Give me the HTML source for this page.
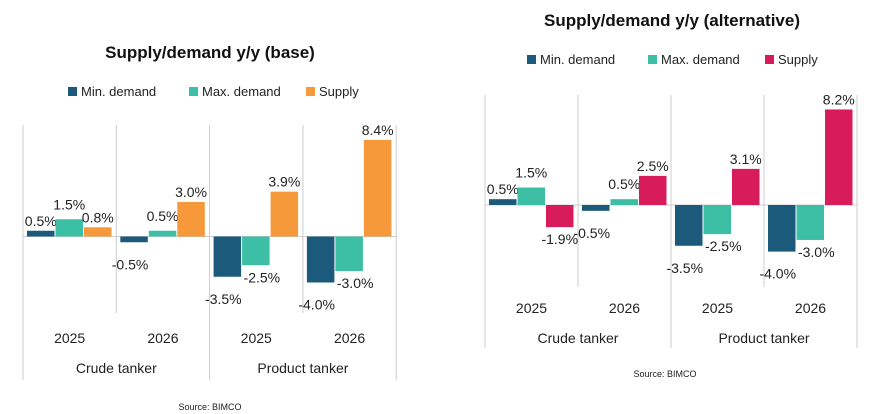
<!DOCTYPE html>
<html><head><meta charset="utf-8"><style>
body{margin:0;background:#fff;width:874px;height:414px;overflow:hidden;font-family:"Liberation Sans",sans-serif}
svg{position:absolute;left:0;top:0}
</style></head><body>
<svg id="s" width="874" height="414"></svg>
<script>
const categories=["2025","2026","2025","2026"];
const groups=["Crude tanker","Product tanker"];
const seriesNames=["Min. demand","Max. demand","Supply"];
const minDemand=[0.5,-0.5,-3.5,-4.0];
const maxDemand=[1.5,0.5,-2.5,-3.0];
const supplyBase=[0.8,3.0,3.9,8.4];
const supplyAlt=[-1.9,2.5,3.1,8.2];
const NS="http://www.w3.org/2000/svg";
const svg=document.getElementById('s');
function el(t,a,txt){const e=document.createElementNS(NS,t);for(const k in a)e.setAttribute(k,a[k]);if(txt!==undefined)e.textContent=txt;svg.appendChild(e);return e;}
function chart(cfg){
  const {x0,gw,zeroY,ppu,top,innerBot,bot,supply,colors,title,titleX,titleY,legX,legY,srcX,srcY,id}=cfg;
  const yS=v=>zeroY-v*ppu;
  let t=el('text',{x:titleX,y:titleY,'font-size':17,'font-weight':'bold','text-anchor':'middle',fill:'#111'},title);
  
  const lx=[legX,legX+121,legX+238];
  seriesNames.forEach((n,i)=>{
    let r=el('rect',{x:lx[i],y:legY-9,width:9,height:9,fill:colors[i]});
    
    let tt=el('text',{x:lx[i]+13,y:legY,'font-size':13,fill:'#222'},n);
    
  });
  for(let i=0;i<=4;i++){
    const full=(i%2===0);
    let l=el('line',{x1:x0+i*gw,x2:x0+i*gw,y1:top,y2:full?bot:innerBot,stroke:'#ccc','stroke-width':1});
    
  }
  let z=el('line',{x1:x0,x2:x0+4*gw,y1:zeroY,y2:zeroY,stroke:'#ccc','stroke-width':1});
  
  const series=[minDemand,maxDemand,supply];
  const bw=27.5,gap=1;
  categories.forEach((c,ci)=>{
    const gx=x0+ci*gw+4;
    series.forEach((s,si)=>{
      const v=s[ci],bx=gx+si*(bw+gap);
      const y1=Math.min(yS(v),zeroY),h=Math.abs(yS(v)-zeroY);
      let r=el('rect',{x:bx,y:y1,width:bw,height:h,fill:colors[si]});
      
      const lab=v.toFixed(1)+'%';
      const ly=v>=0?yS(v)-5-(si===1?5:0):yS(v)+17+(si===0?10:0);
      let tx=el('text',{x:bx+bw/2-(v<0&&si===0?4:0)+(v<0&&si===1?6:0),y:ly,'font-size':14,'text-anchor':'middle',fill:'#222'},lab);
      
    });
    let ct=el('text',{x:x0+ci*gw+gw/2,y:cfg.yearY,'font-size':14,'text-anchor':'middle',fill:'#222'},c);
    
  });
  groups.forEach((g,gi)=>{
    let gt=el('text',{x:x0+gi*2*gw+gw,y:cfg.grpY,'font-size':14,'text-anchor':'middle',fill:'#222'},g);
    
  });
  let so=el('text',{x:srcX,y:srcY,'font-size':9,'text-anchor':'middle',fill:'#222'},'Source: BIMCO');
  
}
chart({id:'base',x0:23,gw:93.3,zeroY:236.5,ppu:11.5,top:125,innerBot:313,bot:380,supply:supplyBase,
  colors:['#1b5a7a','#3cbfa4','#f5993a'],title:'Supply/demand y/y (base)',titleX:210,titleY:58,legX:68,legY:96,
  yearY:343,grpY:373,srcX:210,srcY:410});
chart({id:'alt',x0:485,gw:93,zeroY:205,ppu:11.65,top:95,innerBot:287,bot:348,supply:supplyAlt,
  colors:['#1b5a7a','#3cbfa4','#d81b5a'],title:'Supply/demand y/y (alternative)',titleX:672,titleY:26,legX:527,legY:64,
  yearY:313,grpY:343,srcX:665,srcY:377});
</script>
</body></html>
